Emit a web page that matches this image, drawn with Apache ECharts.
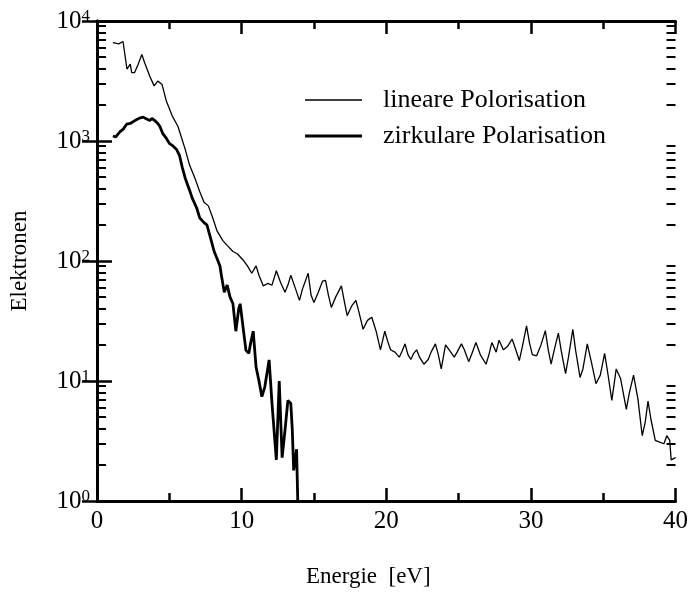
<!DOCTYPE html>
<html>
<head>
<meta charset="utf-8">
<script src="https://cdn.jsdelivr.net/npm/echarts@6/dist/echarts.min.js"></script>
<style>
html,body{margin:0;padding:0;background:#fff;}
#chart{width:691px;height:593px;}
</style>
</head>
<body>
<div id="chart"></div>
<script>
// Energy (eV) and electron counts, lineare Polarisation (thin line)
const linE = [1.1,1.5,1.8,2.07,2.3,2.4,2.6,2.85,3.1,3.3,3.65,3.95,4.2,4.5,4.8,5.2,5.6,6.1,6.4,6.8,7.1,7.4,7.7,8.0,8.3,8.7,9.0,9.4,9.7,10.1,10.4,10.7,11.0,11.2,11.5,11.8,12.1,12.4,12.7,13.0,13.2,13.4,13.7,14.0,14.2,14.6,14.8,15.0,15.3,15.6,15.8,16.0,16.2,16.5,16.9,17.1,17.3,17.6,17.9,18.1,18.4,18.7,19.0,19.3,19.6,19.9,20.1,20.3,20.6,20.9,21.1,21.3,21.5,21.7,21.9,22.1,22.3,22.6,22.9,23.1,23.4,23.6,23.8,24.1,24.4,24.7,24.9,25.2,25.4,25.7,25.9,26.2,26.5,26.9,27.1,27.3,27.6,27.8,28.1,28.4,28.7,28.9,29.2,29.4,29.7,29.9,30.1,30.4,30.7,31.0,31.2,31.4,31.6,31.9,32.1,32.4,32.6,32.9,33.1,33.4,33.6,33.9,34.2,34.5,34.8,35.1,35.3,35.6,35.9,36.2,36.6,36.8,37.1,37.4,37.7,37.9,38.1,38.3,38.6,38.9,39.2,39.4,39.6,39.7,40.0];
const linVal = [6600,6450,6750,3980,4370,3715,3715,4370,5250,4470,3470,2880,3160,2950,2140,1620,1320,851,630,479,380,309,288,229,178,148,135,120,115,102,91,79,91,76,62,65,63,83,66,55,63,76,60,47,58,79,52,45,55,68,69,52,41,50,62,46,35,42,47,38,27,32,34,26,18.2,26,21.4,18.2,17.4,15.8,17.8,20.4,16.6,15.1,17.0,18.2,15.8,13.8,15.1,17.4,20.4,16.6,12.6,20.0,17.8,15.8,17.4,20.4,18.2,14.5,16.6,20.9,16.6,13.8,16.6,20.9,17.4,21.9,18.2,19.5,22.4,19.1,14.8,19.1,28.8,20.9,16.6,16.2,20.0,26.3,18.2,13.8,17.8,25.1,17.8,11.5,15.8,26.9,17.8,10.7,12.6,20.4,14.1,9.5,11.2,17.0,12.0,6.9,12.6,10.5,5.8,7.9,11.2,7.1,3.5,4.5,6.8,4.8,3.2,3.1,3.0,3.5,3.2,2.2,2.3];

// zirkulare Polarisation (thick line)
const zirE = [1.1,1.3,1.6,1.8,2.05,2.3,2.5,2.75,3.0,3.2,3.4,3.65,3.8,4.0,4.2,4.35,4.55,4.8,5.0,5.2,5.5,5.7,5.9,6.1,6.4,6.6,6.9,7.1,7.4,7.6,7.9,8.1,8.3,8.5,8.6,8.8,9.0,9.2,9.4,9.6,9.8,9.9,10.1,10.3,10.5,10.6,10.8,11.0,11.2,11.4,11.6,11.9,12.1,12.4,12.6,12.8,13.0,13.2,13.4,13.5,13.6,13.8,13.9];
const zirVal = [1100,1080,1200,1250,1380,1400,1450,1510,1560,1580,1530,1480,1540,1480,1400,1320,1150,1050,955,920,851,760,600,490,389,331,275,229,209,200,148,120,105,91,76,55,63,50,44,26,40,44,28,18,17,20,26,13,10,7.4,8.9,15,6.5,2.2,10,2.3,3.9,6.9,6.5,4.0,1.8,2.7,0.8];

const seriesNames = ['lineare Polorisation', 'zirkulare Polarisation'];
const xTicks = [0, 10, 20, 30, 40];
const yTickExponents = {1:'0', 10:'1', 100:'2', 1000:'3', 10000:'4'};
const yMinorTicks = [2,3,4,5,6,7,8,9,20,30,40,50,60,70,80,90,200,300,400,500,600,700,800,900,2000,3000,4000,5000,6000,7000,8000,9000];

const FONT = 'Liberation Serif';
const chart = echarts.init(document.getElementById('chart'), null, {renderer:'canvas'});

const axisLine = {show:true, lineStyle:{color:'#000', width:3}};
const majorTick = {show:true, inside:true, length:13, lineStyle:{color:'#000', width:2.5}};
const xMinor = {show:true, splitNumber:2, length:8, lineStyle:{color:'#000', width:2.5}};

function xAxisDef(pos, showLabel, extra) {
  return Object.assign({
    type:'value', position:pos, min:0, max:40, interval:10,
    axisLine:axisLine, axisTick:majorTick, minorTick:Object.assign({}, xMinor),
    splitLine:{show:false}, minorSplitLine:{show:false},
    axisLabel:{show:showLabel, fontFamily:FONT, fontSize:25, color:'#000', margin:8,
      formatter: v => xTicks.includes(v) ? String(v) : ''}
  }, extra || {});
}
function yAxisDef(pos, showLabel, extra) {
  return Object.assign({
    type:'log', logBase:10, position:pos, min:1, max:10000,
    axisLine:axisLine, axisTick:Object.assign({}, majorTick, {length:15}),
    splitLine:{show:false},
    axisLabel:{show:showLabel, color:'#000', margin:7,
      formatter: v => '{b|10}{s|' + (yTickExponents[Math.round(v)] || '') + '}',
      rich:{
        b:{fontFamily:FONT, fontSize:25, color:'#000', lineHeight:26, verticalAlign:'bottom'},
        s:{fontFamily:FONT, fontSize:17, color:'#000', lineHeight:16, verticalAlign:'top'}
      }}
  }, extra || {});
}

function legendDef(name, top, h) {
  return {
    orient:'vertical', left:305, top:top, padding:0, itemWidth:57, itemHeight:h,
    icon:'rect', data:[name], selectedMode:false,
    itemStyle:{color:'#000', borderWidth:0},
    textStyle:{fontFamily:FONT, fontSize:26, color:'#000', lineHeight:26, padding:[0,0,0,16]}
  };
}

const option = {
  backgroundColor:'#fff',
  animation:false,
  grid:{left:97, right:14, top:21, bottom:88},
  legend:[legendDef(seriesNames[0], 87, 1.3), legendDef(seriesNames[1], 123, 2.8)],
  xAxis:[
    xAxisDef('bottom', true, {name:'Energie  [eV]', nameLocation:'middle', nameGap:64,
      nameTextStyle:{fontFamily:FONT, fontSize:23, color:'#000', padding:[0,36,0,0]}}),
    xAxisDef('top', false)
  ],
  yAxis:[
    yAxisDef('left', true, {name:'Elektronen', nameLocation:'middle', nameGap:66,
      nameTextStyle:{fontFamily:FONT, fontSize:23, color:'#000'}}),
    yAxisDef('right', false)
  ],
  series:[
    {name:seriesNames[0], type:'line', xAxisIndex:0, yAxisIndex:0, symbol:'none', showSymbol:false,
      data: linE.map((e,i)=>[e, linVal[i]]), lineStyle:{color:'#000', width:1.3}, itemStyle:{color:'#000'}, z:3},
    {name:seriesNames[1], type:'line', xAxisIndex:0, yAxisIndex:0, symbol:'none', showSymbol:false,
      data: zirE.map((e,i)=>[e, zirVal[i]]), lineStyle:{color:'#000', width:2.8}, itemStyle:{color:'#000'}, z:3},
    {name:'minorTicks', type:'custom', coordinateSystem:'cartesian2d', xAxisIndex:0, yAxisIndex:0,
      silent:true, clip:false, z:5,
      data: yMinorTicks.map(v => [0, v]),
      renderItem: function(params, api) {
        const v = api.value(1);
        const p = api.coord([0, v]);
        const q = api.coord([40, v]);
        const y = Math.round(p[1]);
        const st = {stroke:'#000', lineWidth:2};
        return {type:'group', children:[
          {type:'line', shape:{x1:p[0], y1:y, x2:p[0]+9, y2:y}, style:st},
          {type:'line', shape:{x1:q[0]-9, y1:y, x2:q[0], y2:y}, style:st}
        ]};
      }}
  ]
};
chart.setOption(option);
</script>
</body>
</html>
